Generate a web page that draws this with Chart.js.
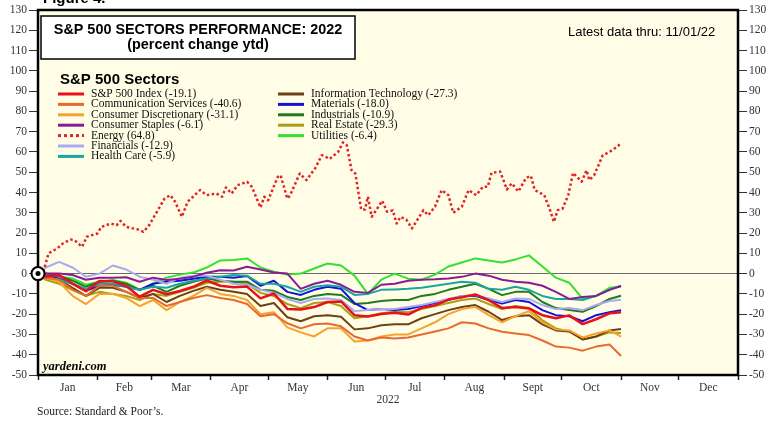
<!DOCTYPE html>
<html>
<head>
<meta charset="utf-8">
<script src="https://cdn.jsdelivr.net/npm/chart.js@4.4.0/dist/chart.umd.min.js"></script>
<style>
  html, body { margin: 0; padding: 0; background: #fff; }
  canvas { display: block; }
</style>
</head>
<body>
<canvas id="myChart" width="780" height="424"></canvas>
<script>
// x axis is day of year (Jan 1 = 0)
const MONTH_STARTS = [0, 31, 59, 90, 120, 151, 181, 212, 243, 273, 304, 334, 365];
const MONTH_NAMES = ["Jan", "Feb", "Mar", "Apr", "May", "Jun", "Jul", "Aug", "Sept", "Oct", "Nov", "Dec"];
const Y_TICKS = { min: -50, max: 130, step: 10 };

// weekly readings, percent change ytd
const days = [0, 4, 11, 18, 25, 32, 39, 46, 53, 60, 67, 74, 81, 88, 95, 102, 109, 116, 123, 130, 137, 144, 151, 158, 165, 172, 179, 186, 193, 200, 207, 214, 221, 228, 235, 242, 249, 256, 263, 270, 277, 284, 291, 298, 304];

const sp500 = [0, -1.4, -0.8, -4.9, -8.7, -3.7, -3.8, -6.1, -11.4, -8.0, -10.2, -8.6, -6.5, -3.4, -6.0, -6.7, -6.4, -12.2, -9.8, -17.4, -17.7, -16.5, -14.0, -13.7, -20.5, -21.1, -19.9, -19.3, -20.2, -16.9, -15.6, -12.8, -11.7, -10.3, -13.1, -17.0, -16.5, -17.2, -20.5, -22.0, -20.6, -24.9, -22.5, -19.6, -19.1];
const commServices = [0, -2, -3, -8, -11, -6, -6, -9, -12, -12, -16, -14, -12, -10.6, -12, -13, -15, -21, -20, -24.5, -27, -25, -24.6, -26, -31, -33, -31.5, -32, -31.5, -30, -28.5, -27, -24, -24.6, -27, -28.7, -29.5, -30.3, -33, -36, -36.5, -38, -36, -35, -40.6];
const consDiscretionary = [0, -2, -4, -11, -15, -10, -10, -12, -16, -13, -18, -14, -11, -7, -10, -11, -13, -20, -19, -26.5, -29, -31, -27, -27, -33.5, -33, -31, -30, -30, -27, -24, -20, -17.5, -16.4, -20.5, -24, -21, -18.5, -24, -27.5, -28, -31.5, -29.5, -28, -31.1];
const consStaples = [0, 0, 0, -0.7, -3, -2, -2, -1.8, -4, -2, -3.2, -2.5, -1.5, 0.4, 1.7, 1.5, 3.4, 2, 0.5, 0, -7.5, -5, -3.5, -5.5, -9, -9.5, -5.5, -5, -3.5, -3, -2.8, -2.4, -1.6, 0, -1, -3, -4, -4.5, -6, -9, -12.5, -11.5, -11, -8, -6.1];
const financials = [0, 3, 5.8, 3, -1.5, 0, 4, 2, -1.5, -3, -5, -2, -1, -1, -3, -5, -5.5, -8, -9.5, -12.5, -14.5, -12.5, -12.3, -13, -18.5, -18, -17.5, -17.5, -16.5, -15.5, -14, -12.5, -11, -10.6, -12.3, -14, -12.3, -12.5, -15.5, -17.5, -17, -18, -15.5, -13.5, -12.9];
const healthCare = [0, -1.5, -3, -5, -7.5, -5, -5, -6.5, -8, -6.5, -7, -5, -3.5, -2.4, -1.6, -0.7, -1, -5, -5, -6.5, -9, -6.5, -5.7, -6.5, -10.5, -10, -8, -7.8, -7.5, -7, -6, -5, -4, -4.5, -7.5, -8, -6.5, -8, -11, -12.5, -12.5, -13, -11, -8, -5.9];
const infoTech = [0, -2, -3, -7, -11, -7, -7, -9, -12, -10, -14, -11, -8.5, -6.5, -8, -9, -10, -16, -14.5, -21.5, -23.5, -21, -20.5, -21.3, -27.5, -27, -25.5, -25, -25, -22, -20, -18, -16.5, -15.5, -18.8, -22.9, -21, -20.5, -25, -28, -28.5, -32.5, -31, -28, -27.3];
const materials = [0, -1, -2.5, -5, -8.5, -6, -5.5, -6.5, -8, -5, -4, -3.5, -2.5, -1.5, -1.5, -2, -1.2, -6, -3.5, -9, -10.5, -8, -6.5, -7.5, -14.5, -18, -17.5, -18, -17.5, -16, -14.5, -13, -11, -11, -13, -14.7, -13, -14, -18, -20.5, -21, -23.5, -20.5, -19, -18.0];
const industrials = [0, 0, -1, -3.5, -6.5, -4, -3.5, -5, -8, -6, -9, -6, -4, -2.4, -3.5, -4, -4, -8, -8.5, -11.5, -13, -11, -10, -10.5, -15, -14.5, -13.5, -13, -13, -11, -10, -8, -6.5, -5, -7.5, -10.6, -9, -9, -14, -17, -18, -18.8, -16, -12.5, -10.9];
const realEstate = [0, -3, -5, -8, -11, -9, -10, -11, -13, -10, -11, -9, -7, -4.5, -4, -4, -5, -9.5, -11, -15, -17, -14.5, -14, -16, -22, -21, -19.5, -18.8, -19, -17.5, -16, -14.5, -13, -12.3, -15, -17.5, -16, -17, -23, -27, -28.5, -32.5, -31, -29, -29.3];
const utilities = [0, -1, -1.6, -2.4, -5.5, -4, -3.2, -4.5, -8, -5, -2, -0.5, 0.5, 3, 6.5, 6.7, 7.5, 3, 0.9, -0.5, 0, 2.5, 5, 4, -1, -10, -3, 0, -2.5, -3, -0.5, 3.5, 5.5, 7.5, 6.5, 5.5, 7, 9, 3.5, -2, -4.5, -12.5, -11, -7, -6.4];

// energy read more densely, it stands apart from the bundle
const energyDays = [0, 3, 5.5, 10, 13, 17, 19, 23, 25.5, 31, 33, 38, 41, 43, 46, 52, 55, 58, 62, 66, 69, 71.5, 75, 78, 84.5, 88, 93, 96, 98, 101, 104, 109, 111.5, 116, 118, 120, 125, 126.5, 130, 131.5, 136.5, 140, 144.5, 148, 150, 152, 156.5, 159, 161, 163.5, 165.5, 168.5, 170.5, 172, 174, 177.5, 179.5, 182, 185, 187, 189, 192, 195, 201, 203.5, 207, 210.5, 214, 216.5, 221, 224.5, 228.5, 232, 234.5, 236.5, 241, 244.5, 247, 250.5, 254.5, 257, 259, 264, 267, 269, 271, 273.5, 276.5, 279, 283.5, 286, 287.5, 290, 294.5, 298, 302.5, 304];
const energy = [0, 1.7, 10, 12.4, 14.9, 16.8, 16.5, 13.2, 18.2, 19.8, 23, 24.7, 23.9, 26, 23, 21.8, 20.6, 23.9, 30.5, 37, 38.7, 35.4, 28, 35.4, 41.2, 38.7, 39.5, 37.9, 42.5, 39.5, 43.6, 45.3, 42.8, 32.6, 37.9, 36.2, 47.7, 48.5, 37, 38.7, 49.4, 46.1, 51.9, 58.4, 57.6, 56.5, 60, 64.7, 63.3, 51, 49.3, 31.6, 31.6, 37.9, 28, 33, 35.9, 30.5, 31.2, 24.7, 28, 26.7, 22.3, 31.3, 28.8, 33, 41.2, 38.7, 30, 33, 41.2, 38.7, 42.8, 42.8, 49.7, 50.3, 41.5, 44.5, 40.5, 47.2, 48.2, 41.2, 38.7, 31.3, 25.5, 31.3, 32, 38.7, 49.7, 45.3, 51, 46.1, 48.5, 58.4, 60, 62.9, 64.8];

const sectorNames = ["S&P 500 Index", "Communication Services", "Consumer Discretionary", "Consumer Staples", "Energy", "Financials", "Health Care", "Information Technology", "Materials", "Industrials", "Real Estate", "Utilities"];
const series = [sp500, commServices, consDiscretionary, consStaples, energy, financials, healthCare, infoTech, materials, industrials, realEstate, utilities];
const lineColors = ["#e8101c", "#e86a2c", "#f5a231", "#8a1a96", "#e02424", "#aaaaf0", "#1aa6a0", "#6b4214", "#1212d8", "#1f7a22", "#a8a012", "#33e033"];

const SERIF = "'Liberation Serif', 'Times New Roman', serif";
const SANS = "'Liberation Sans', Arial, sans-serif";

const datasets = sectorNames.map((name, i) => {
  const isEnergy = series[i] === energy;
  const xs = isEnergy ? energyDays : days;
  return {
    label: name,
    data: series[i].map((v, j) => ({ x: xs[j], y: v })),
    borderColor: lineColors[i],
    backgroundColor: lineColors[i],
    borderWidth: isEnergy ? 2.5 : (i === 0 ? 2.5 : 2),
    borderDash: isEnergy ? [2.5, 2.5] : [],
    borderJoinStyle: "round",
    pointRadius: 0,
    tension: 0,
    fill: false,
  };
});

const monthMids = MONTH_NAMES.map((m, i) => (MONTH_STARTS[i] + MONTH_STARTS[i + 1]) / 2);

//Background, frame, titles and the two column legend
const decor = {
  id: "decor",
  beforeDraw(chart) {
    const { ctx, chartArea: a } = chart;
    ctx.save();
    ctx.fillStyle = "#fffde6";
    ctx.fillRect(a.left, a.top, a.right - a.left, a.bottom - a.top);
    ctx.restore();
  },
  afterDraw(chart) {
    const { ctx, chartArea: a, scales } = chart;
    ctx.save();

    // frame
    ctx.strokeStyle = "#000";
    ctx.lineWidth = 2.5;
    ctx.strokeRect(a.left, a.top, a.right - a.left, a.bottom - a.top);

    // start marker
    const mx = scales.x.getPixelForValue(0);
    const my = scales.y.getPixelForValue(0);
    ctx.beginPath();
    ctx.arc(mx, my, 6.5, 0, Math.PI * 2);
    ctx.fillStyle = "#fff";
    ctx.fill();
    ctx.lineWidth = 2;
    ctx.stroke();
    ctx.beginPath();
    ctx.arc(mx, my, 2.5, 0, Math.PI * 2);
    ctx.fillStyle = "#000";
    ctx.fill();

    // figure caption, cut by the top edge
    ctx.fillStyle = "#000";
    ctx.font = "bold 15px " + SANS;
    ctx.textAlign = "left";
    ctx.textBaseline = "alphabetic";
    ctx.fillText("Figure 4.", 43, 3);

    // title box
    ctx.fillStyle = "#fff";
    ctx.fillRect(41, 16, 314, 43);
    ctx.lineWidth = 1.5;
    ctx.strokeRect(41, 16, 314, 43);
    ctx.fillStyle = "#000";
    ctx.textAlign = "center";
    ctx.textBaseline = "middle";
    ctx.font = "bold 14.4px " + SANS;
    ctx.fillText("S&P 500 SECTORS PERFORMANCE: 2022", 198, 30);
    ctx.fillText("(percent change ytd)", 198, 45);

    ctx.font = "13px " + SANS;
    ctx.textAlign = "left";
    ctx.fillText("Latest data thru: 11/01/22", 568, 32);

    // legend
    ctx.font = "bold 15px " + SANS;
    ctx.fillText("S&P 500 Sectors", 60, 80);
    ctx.font = "11.5px " + SERIF;
    chart.data.datasets.forEach((ds, i) => {
      const col = i < 7 ? 0 : 1;
      const row = i < 7 ? i : i - 7;
      const x0 = col ? 278 : 58;
      const y = 94 + row * 10.4;
      ctx.strokeStyle = ds.borderColor;
      ctx.lineWidth = 3;
      ctx.setLineDash(ds.borderDash.length ? [3, 3] : []);
      ctx.beginPath();
      ctx.moveTo(x0, y);
      ctx.lineTo(x0 + 26, y);
      ctx.stroke();
      ctx.setLineDash([]);
      const last = ds.data[ds.data.length - 1].y;
      ctx.fillStyle = "#111";
      ctx.fillText(ds.label + " (" + last.toFixed(1) + ")", x0 + 33, y);
    });

    ctx.font = "italic bold 12.5px " + SERIF;
    ctx.fillStyle = "#000";
    ctx.fillText("yardeni.com", 43, 367);

    ctx.font = "11.5px " + SERIF;
    ctx.fillStyle = "#222";
    ctx.fillText("Source: Standard & Poor\u2019s.", 37, 412);
    ctx.restore();
  },
};

const yAxis = (position) => ({
  position: position,
  min: Y_TICKS.min,
  max: Y_TICKS.max,
  afterFit: (scale) => { scale.width = position === "left" ? 38 : 42; },
  ticks: {
    stepSize: Y_TICKS.step,
    color: "#333",
    font: { family: SERIF, size: 11.5 },
    padding: 2,
  },
  grid: {
    drawOnChartArea: position === "left",
    color: (ctx) => (ctx.tick && ctx.tick.value === 0 ? "#6a6a6a" : "transparent"),
    tickColor: "#333",
    tickLength: 9,
    lineWidth: 1,
  },
  border: { display: false },
});

const config = {
  type: "line",
  data: { datasets: datasets },
  options: {
    responsive: false,
    animation: false,
    layout: { padding: { top: 10, left: 0, right: 0, bottom: 0 } },
    plugins: { legend: { display: false }, tooltip: { enabled: false } },
    scales: {
      x: {
        type: "linear",
        min: MONTH_STARTS[0],
        max: MONTH_STARTS[MONTH_STARTS.length - 1],
        afterFit: (scale) => { scale.height = 49; },
        afterBuildTicks: (scale) => {
          scale.ticks = MONTH_STARTS.map((v) => ({ value: v })).concat(monthMids.map((v) => ({ value: v })));
        },
        ticks: {
          autoSkip: false,
          maxRotation: 0,
          color: "#333",
          font: { family: SERIF, size: 11.5 },
          padding: 1,
          callback: (value) => {
            const k = monthMids.indexOf(value);
            return k >= 0 ? MONTH_NAMES[k] : "";
          },
        },
        grid: {
          drawOnChartArea: false,
          tickLength: 5,
          tickWidth: 1.5,
          tickColor: (ctx) => (ctx.tick && MONTH_STARTS.includes(ctx.tick.value) ? "#222" : "transparent"),
        },
        border: { display: false },
        title: {
          display: true,
          text: "2022",
          color: "#333",
          font: { family: SERIF, size: 11.5 },
          padding: { top: 0, bottom: 17 },
        },
      },
      y: yAxis("left"),
      y2: yAxis("right"),
    },
  },
  plugins: [decor],
};

var myChart = new Chart(document.getElementById("myChart"), config);
</script>
</body>
</html>
